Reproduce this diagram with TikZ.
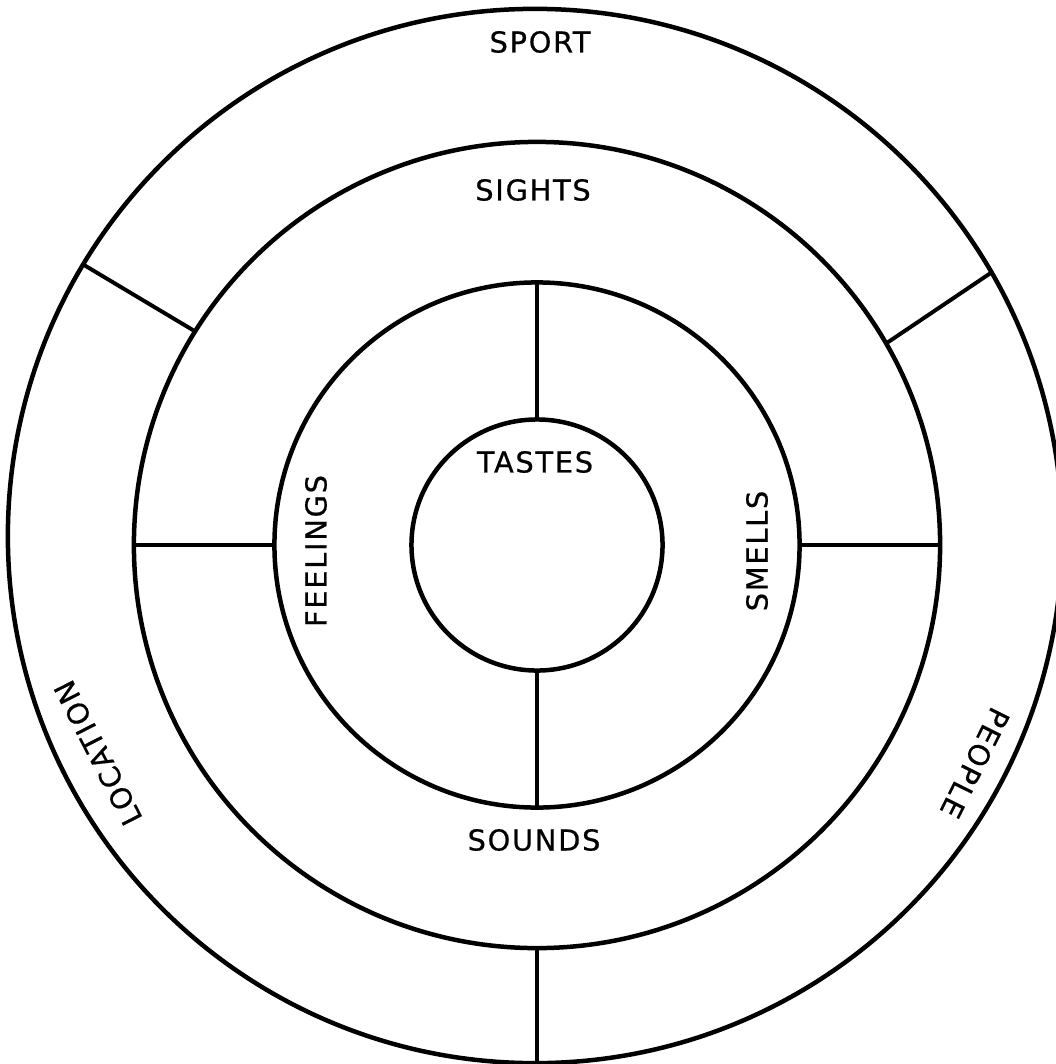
\documentclass[tikz,border=0pt]{standalone}
\usepackage{fontspec}
\setmainfont{DejaVu Sans}[LetterSpace=6, FakeBold=0.6]
\begin{document}
\begin{tikzpicture}[
    x=0.025cm, y=-0.025cm,
    ring/.style={draw, circle, line width=3.2pt, inner sep=0pt, outer sep=0pt},
    spoke/.style={line width=2.8pt},
    lbl/.style={font=\fontsize{20.5}{24}\selectfont, inner sep=1pt}
]
\useasboundingbox (0,0) rectangle (1056,1064);

% Rings from the centre outwards
\node[ring, minimum size=6.275cm] (taste) at (537,545) {};
\node[ring, minimum size=13.125cm] (inner) at (537,545) {};
\node[ring, minimum size=20.15cm] (middle) at (537,545) {};
\node[ring, minimum size=26.35cm] (outer) at (535,536) {};

% Spokes in the inner ring
\draw[spoke] (taste.north) -- (inner.north);
\draw[spoke] (taste.south) -- (inner.south);

% Spokes in the middle ring
\draw[spoke] (middle.west) -- (inner.west);
\draw[spoke] (inner.east) -- (middle.east);

% Spokes in the outer ring
\draw[spoke] (middle.148.5) -- (outer.149);
\draw[spoke] (middle.30.5) -- (outer.30);
\draw[spoke] (middle.south) -- (middle.south |- outer.south);

% Labels
\node[lbl] (tastes) at (535,462) {TASTES};
\node[lbl, rotate=90] (feelings) at (316,551) {FEELINGS};
\node[lbl, rotate=90] (smells) at (757,551) {SMELLS};
\node[lbl] (sights) at (533,190) {SIGHTS};
\node[lbl] (sounds) at (534,840) {SOUNDS};
\node[lbl] (sport) at (540,42) {SPORT};
\node[lbl, rotate=117] (location) at (98,753) {LOCATION};
\node[lbl, rotate=243.5] (people) at (975,763) {PEOPLE};
\end{tikzpicture}
\end{document}
